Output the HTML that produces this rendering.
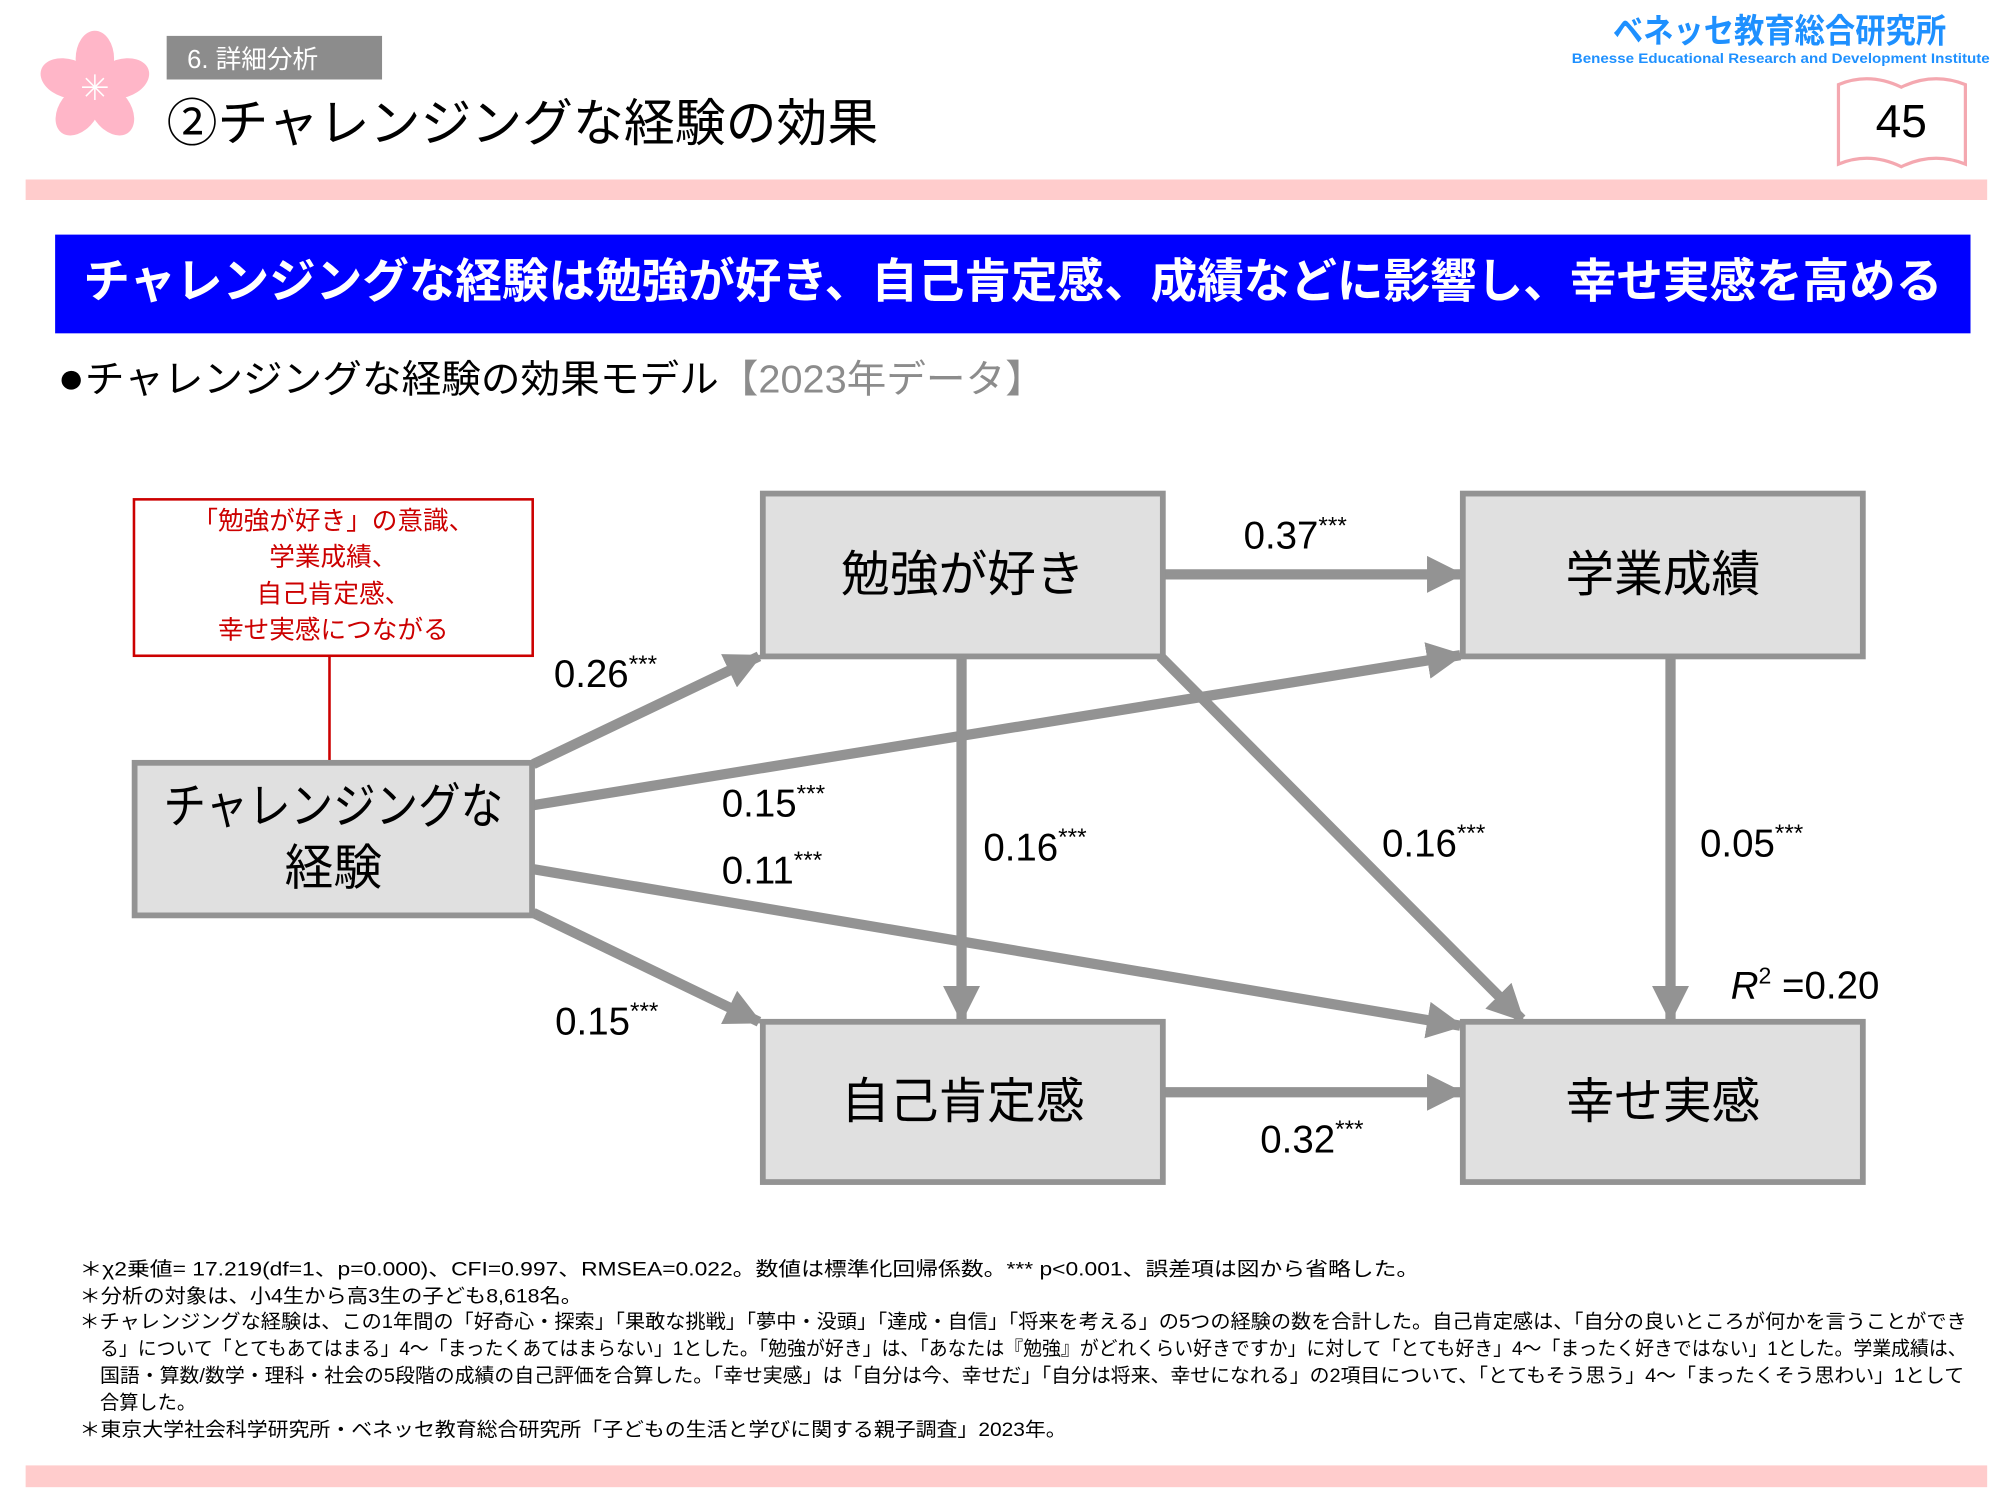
<!DOCTYPE html>
<html><head><meta charset="utf-8"><style>
html,body{margin:0;padding:0;background:#fff;}
svg{display:block;}
text{font-family:"Liberation Sans","Noto Sans CJK JP",sans-serif;}
</style></head><body>
<svg width="2000" height="1500" viewBox="0 0 1560 1170" xmlns="http://www.w3.org/2000/svg">
<defs>
<marker id="ah" viewBox="0 0 10 10" refX="9" refY="5" markerWidth="3.6" markerHeight="3.6" orient="auto" markerUnits="strokeWidth">
<path d="M0,0 L10,5 L0,10 z" fill="#939393"/></marker>
</defs>
<g transform="translate(74,68)" fill="#ffb6c8">
<ellipse cx="0" cy="-22" rx="15" ry="22"/>
<ellipse cx="0" cy="-22" rx="15" ry="22" transform="rotate(72)"/>
<ellipse cx="0" cy="-22" rx="15" ry="22" transform="rotate(144)"/>
<ellipse cx="0" cy="-22" rx="15" ry="22" transform="rotate(216)"/>
<ellipse cx="0" cy="-22" rx="15" ry="22" transform="rotate(288)"/>
<g stroke="#fff" stroke-width="1.2"><line x1="-10" y1="0" x2="10" y2="0"/><line x1="0" y1="-10" x2="0" y2="10"/><line x1="-7" y1="-7" x2="7" y2="7"/><line x1="-7" y1="7" x2="7" y2="-7"/></g>
</g>
<rect x="130" y="28" width="168" height="34" fill="#8c8c8c"/>
<text x="146" y="53" font-size="20" fill="#fff">6. 詳細分析</text>
<text x="130" y="110" font-size="40" fill="#000" textLength="555" lengthAdjust="spacingAndGlyphs">②チャレンジングな経験の効果</text>
<text x="1388" y="33" font-size="26" font-weight="bold" fill="#1e90ff" text-anchor="middle" textLength="260" lengthAdjust="spacingAndGlyphs">ベネッセ教育総合研究所</text>
<text x="1389" y="49" font-size="11" font-weight="bold" fill="#1e90ff" text-anchor="middle" textLength="326" lengthAdjust="spacingAndGlyphs">Benesse  Educational Research and Development Institute</text>
<path d="M1434,128 L1434,66 Q1458,56 1483,68 Q1508,56 1533,66 L1533,128 Q1508,118 1483,130 Q1458,118 1434,128 z" fill="#fff" stroke="#f4a8b0" stroke-width="2.5"/>
<text x="1483" y="107" font-size="36" text-anchor="middle" fill="#000">45</text>
<rect x="20" y="140" width="1530" height="16" fill="#ffcccc"/>
<rect x="43" y="183" width="1494" height="77" fill="#0000ff"/>
<text x="790" y="232" font-size="37" font-weight="bold" fill="#fff" text-anchor="middle" textLength="1450" lengthAdjust="spacingAndGlyphs">チャレンジングな経験は勉強が好き、自己肯定感、成績などに影響し、幸せ実感を高める</text>
<text x="45" y="306" font-size="30" fill="#000" textLength="770" lengthAdjust="spacingAndGlyphs"><tspan font-size="34">●</tspan>チャレンジングな経験の効果モデル<tspan fill="#8c8c8c">【2023年データ】</tspan></text>
<rect x="104.5" y="389.5" width="311" height="122" fill="#fff" stroke="#cc0000" stroke-width="2"/>
<g font-size="20" fill="#cc0000" text-anchor="middle">
<text x="260" y="413">「勉強が好き」の意識、</text>
<text x="260" y="441">学業成績、</text>
<text x="260" y="470">自己肯定感、</text>
<text x="260" y="498">幸せ実感につながる</text>
</g>
<line x1="257" y1="511" x2="257" y2="594" stroke="#cc0000" stroke-width="2"/>
<g stroke="#939393" stroke-width="8" fill="none" marker-end="url(#ah)">
<line x1="907" y1="448" x2="1139" y2="448"/>
<line x1="416" y1="596" x2="592" y2="512"/>
<line x1="416" y1="628" x2="1139" y2="511"/>
<line x1="416" y1="678" x2="1139" y2="800"/>
<line x1="416" y1="712" x2="592" y2="797"/>
<line x1="750" y1="512" x2="750" y2="795"/>
<line x1="905" y1="512" x2="1187" y2="795"/>
<line x1="1303" y1="512" x2="1303" y2="795"/>
<line x1="907" y1="852" x2="1139" y2="852"/>
</g>
<g fill="#e0e0e0" stroke="#939393" stroke-width="4.5">
<rect x="595" y="385" width="312" height="127"/>
<rect x="1141" y="385" width="312" height="127"/>
<rect x="105" y="595" width="310" height="119"/>
<rect x="595" y="797" width="312" height="125"/>
<rect x="1141" y="797" width="312" height="125"/>
</g>
<g font-size="38" fill="#000" text-anchor="middle">
<text x="751" y="461">勉強が好き</text>
<text x="1297" y="461">学業成績</text>
<text x="260" y="642" textLength="265" lengthAdjust="spacingAndGlyphs">チャレンジングな</text>
<text x="260" y="690">経験</text>
<text x="751" y="872">自己肯定感</text>
<text x="1297" y="872">幸せ実感</text>
</g>
<g font-size="30" fill="#000">
<text x="970" y="428">0.37<tspan font-size="19" dy="-12">***</tspan></text>
<text x="432" y="536">0.26<tspan font-size="19" dy="-12">***</tspan></text>
<text x="563" y="637">0.15<tspan font-size="19" dy="-12">***</tspan></text>
<text x="563" y="689">0.11<tspan font-size="19" dy="-12">***</tspan></text>
<text x="433" y="807">0.15<tspan font-size="19" dy="-12">***</tspan></text>
<text x="767" y="671">0.16<tspan font-size="19" dy="-12">***</tspan></text>
<text x="1078" y="668">0.16<tspan font-size="19" dy="-12">***</tspan></text>
<text x="1326" y="668">0.05<tspan font-size="19" dy="-12">***</tspan></text>
<text x="983" y="899">0.32<tspan font-size="19" dy="-12">***</tspan></text>
<text x="1350" y="779"><tspan font-style="italic">R</tspan><tspan font-size="18" dy="-12">2</tspan><tspan dy="12"> =0.20</tspan></text>
</g>
<g font-size="15" fill="#000">
<text x="62" y="995" textLength="1045" lengthAdjust="spacingAndGlyphs">＊χ2乗値= 17.219(df=1、p=0.000)、CFI=0.997、RMSEA=0.022。数値は標準化回帰係数。*** p&lt;0.001、誤差項は図から省略した。</text>
<text x="62" y="1016" textLength="392" lengthAdjust="spacingAndGlyphs">＊分析の対象は、小4生から高3生の子ども8,618名。</text>
<text x="62" y="1036" textLength="1472" lengthAdjust="spacingAndGlyphs">＊チャレンジングな経験は、この1年間の「好奇心・探索」「果敢な挑戦」「夢中・没頭」「達成・自信」「将来を考える」の5つの経験の数を合計した。自己肯定感は、「自分の良いところが何かを言うことができ</text>
<text x="78" y="1057" textLength="1456" lengthAdjust="spacingAndGlyphs">る」について「とてもあてはまる」4～「まったくあてはまらない」1とした。「勉強が好き」は、「あなたは『勉強』がどれくらい好きですか」に対して「とても好き」4～「まったく好きではない」1とした。学業成績は、</text>
<text x="78" y="1078" textLength="1454" lengthAdjust="spacingAndGlyphs">国語・算数/数学・理科・社会の5段階の成績の自己評価を合算した。「幸せ実感」は「自分は今、幸せだ」「自分は将来、幸せになれる」の2項目について、「とてもそう思う」4～「まったくそう思わい」1として</text>
<text x="78" y="1099">合算した。</text>
<text x="62" y="1120" textLength="770" lengthAdjust="spacingAndGlyphs">＊東京大学社会科学研究所・ベネッセ教育総合研究所「子どもの生活と学びに関する親子調査」2023年。</text>
</g>
<rect x="20" y="1143" width="1530" height="17" fill="#ffcccc"/>
</svg>
</body></html>
